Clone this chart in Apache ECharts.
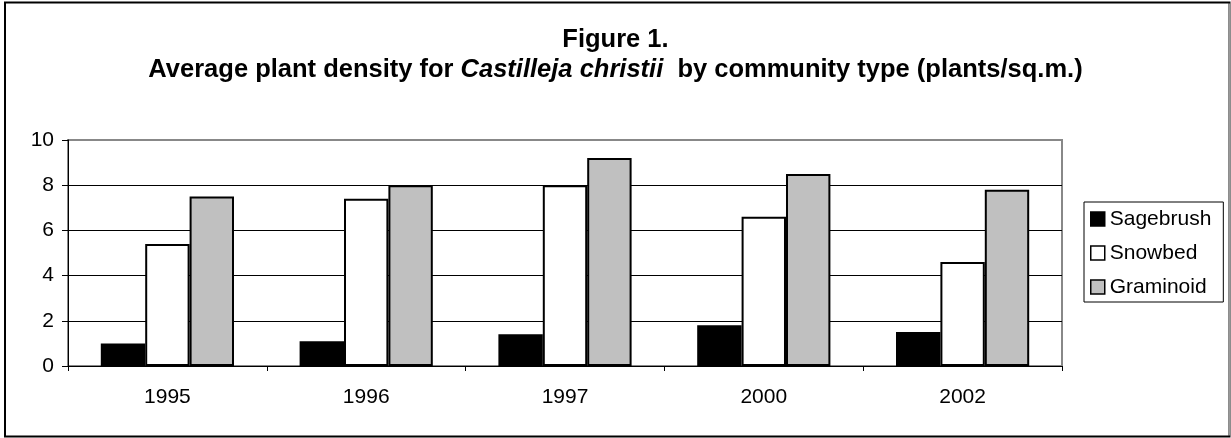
<!DOCTYPE html>
<html>
<head>
<meta charset="utf-8">
<script src="https://cdn.jsdelivr.net/npm/echarts@6/dist/echarts.min.js"></script>
<style>
html,body{margin:0;padding:0;background:#fff;}
#chart{width:1231px;height:438px;}
</style>
</head>
<body>
<div id="chart"></div>
<script>
const categories = ['1995', '1996', '1997', '2000', '2002'];
const sagebrush = [1.0, 1.1, 1.4, 1.8, 1.5];
const snowbed = [5.4, 7.4, 8.0, 6.6, 4.6];
const graminoid = [7.5, 8.0, 9.2, 8.5, 7.8];
const seriesNames = ['Sagebrush', 'Snowbed', 'Graminoid'];
const yTicks = [0, 2, 4, 6, 8, 10];

const FONT = '"Liberation Sans", Arial, sans-serif';
const chart = echarts.init(document.getElementById('chart'), null, {renderer: 'canvas'});

function bar(name, data, color) {
  return {
    name: name, type: 'bar', data: data,
    barGap: '0%', barCategoryGap: '33%',
    itemStyle: {color: color, borderColor: '#000', borderWidth: 2},
    emphasis: {disabled: true}
  };
}

chart.setOption({
  animation: false,
  backgroundColor: '#fff',
  textStyle: {fontFamily: FONT},
  title: {
    left: 'center', top: 25, padding: 0,
    text: '{b|Figure 1.}\n{b|Average plant density for }{bi|Castilleja christii}{b|  by community type (plants/sq.m.)}',
    textStyle: {
      rich: {
        b: {fontFamily: FONT, fontWeight: 'bold', fontSize: 25.5, color: '#000', lineHeight: 30},
        bi: {fontFamily: FONT, fontWeight: 'bold', fontStyle: 'italic', fontSize: 25.5, color: '#000', lineHeight: 30}
      }
    }
  },
  legend: {
    orient: 'vertical', left: 1084, top: 202,
    padding: [6, 12, 4, 6],
    itemWidth: 14, itemHeight: 14, itemGap: 12,
    borderColor: '#000', borderWidth: 1,
    icon: 'rect',
    data: seriesNames,
    itemStyle: {borderColor: '#000', borderWidth: 1.5},
    textStyle: {fontFamily: FONT, fontSize: 21, color: '#000', lineHeight: 22}
  },
  grid: {
    left: 68, right: 169, top: 140, bottom: 72,
    show: true, borderColor: '#888', borderWidth: 2, backgroundColor: 'transparent'
  },
  xAxis: {
    type: 'category', data: categories,
    axisLine: {lineStyle: {color: '#000', width: 1}},
    axisTick: {show: true, length: 5, lineStyle: {color: '#000'}},
    axisLabel: {fontFamily: FONT, fontSize: 21, color: '#000', margin: 21}
  },
  yAxis: {
    type: 'value', min: yTicks[0], max: yTicks[yTicks.length - 1], interval: 2,
    axisLine: {show: true, lineStyle: {color: '#000', width: 1}},
    axisTick: {show: true, length: 6, lineStyle: {color: '#000'}},
    axisLabel: {fontFamily: FONT, fontSize: 21, color: '#000', margin: 14},
    splitLine: {show: true, showMaxLine: false, lineStyle: {color: '#000', width: 1}}
  },
  series: [
    bar(seriesNames[0], sagebrush, '#000000'),
    bar(seriesNames[1], snowbed, '#ffffff'),
    bar(seriesNames[2], graminoid, '#c0c0c0')
  ],
  graphic: [
    {type: 'rect', silent: true, z: 100,
     shape: {x: 5, y: 2.5, width: 1224.5, height: 434},
     style: {fill: 'none', stroke: '#000', lineWidth: 2}},
    {type: 'line', silent: true, z: 101,
     shape: {x1: 1229.5, y1: 3.5, x2: 1229.5, y2: 435.5},
     style: {stroke: '#999', lineWidth: 2}}
  ]
});
</script>
</body>
</html>
